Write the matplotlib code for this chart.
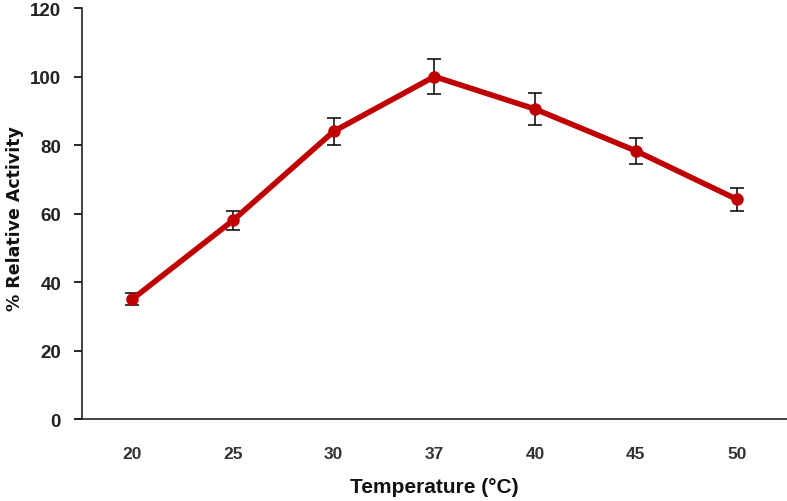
import matplotlib.pyplot as plt
import numpy as np

# Data
temperatures = ["20", "25", "30", "37", "40", "45", "50"]
activity = [35, 58, 84, 100, 90.5, 78.3, 64.2]
activity_err = [1.8, 2.8, 4.0, 5.0, 4.7, 3.7, 3.3]

y_ticks = [0, 20, 40, 60, 80, 100, 120]

tick_font = "Liberation Sans"

fig = plt.figure(figsize=(7.87, 5.02), dpi=100)
ax = fig.add_axes([0.104, 0.163, 0.896, 0.819])

x = np.arange(len(temperatures))
ax.errorbar(x, activity, yerr=activity_err, fmt="none", ecolor="black",
            elinewidth=1.1, capsize=5, capthick=1.1, zorder=2)
ax.plot(x, activity, color="#C00000", linewidth=4, marker="o",
        markersize=8, zorder=3)

ax.set_xlim(-0.5, len(temperatures) - 0.5)
ax.set_ylim(0, 120)
ax.set_xticks(x)
ax.set_xticklabels(temperatures, family=tick_font, fontsize=12.5,
                   fontweight="bold", color="#333333")
ax.set_yticks(y_ticks)
ax.set_yticklabels([str(v) for v in y_ticks], family=tick_font, fontsize=13.5,
                   fontweight="bold", color="#222222")

ax.tick_params(axis="x", length=0, pad=19)
ax.tick_params(axis="y", length=6, width=1.2, direction="out", pad=9)

for side in ["top", "right"]:
    ax.spines[side].set_visible(False)
ax.spines["left"].set_linewidth(1.2)
ax.spines["bottom"].set_linewidth(1.2)
ax.spines["left"].set_color("#222222")
ax.spines["bottom"].set_color("#222222")
ax.spines["bottom"].set_bounds(-0.57, len(temperatures) - 0.5)

ax.set_xlabel("Temperature (°C)", family=tick_font, fontsize=15,
              fontweight="bold", labelpad=12, color="#111111")
fig.text(15 / 787, 0.565, "% Relative Activity", family="DejaVu Sans",
         fontsize=12.5, fontweight="bold", rotation=90, ha="center",
         va="center", color="#111111")

fig.savefig("out.png", dpi=100)
